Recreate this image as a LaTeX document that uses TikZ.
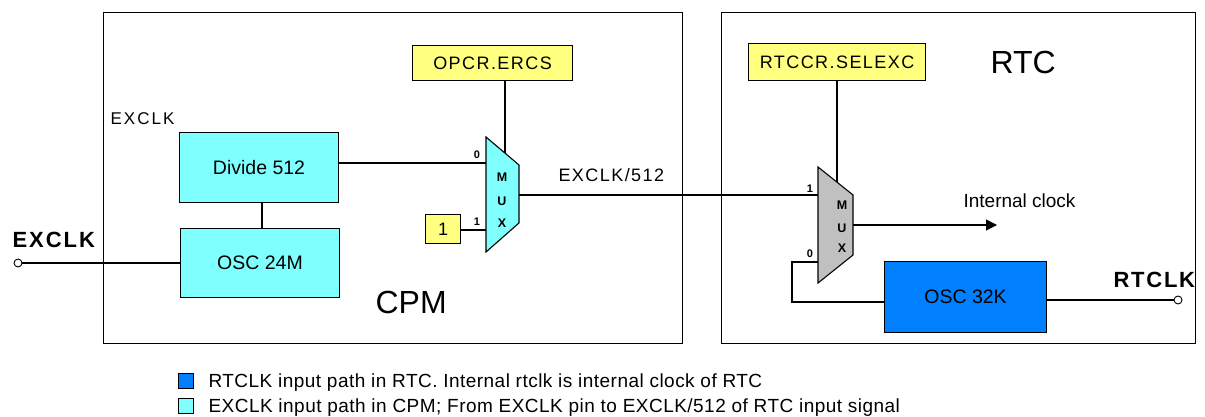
\documentclass[tikz,border=0pt]{standalone}
\usepackage{fontspec}
\setmainfont{Liberation Sans}
\usetikzlibrary{arrows.meta}
\definecolor{cy}{HTML}{80FFFF}
\definecolor{yl}{HTML}{FFFF80}
\definecolor{bl}{HTML}{0080FF}
\definecolor{gr}{HTML}{C0C0C0}
\newcommand{\fsz}[1]{\fontsize{#1}{#1}\selectfont}
\newcommand{\lsp}{\addfontfeature{LetterSpace=8}}
\begin{document}
\begin{tikzpicture}[x=1pt,y=-1pt,line width=1.1pt,
  blk/.style={draw,line width=1.1pt,inner sep=0pt,anchor=north west,font=\fsz{19.5}},
  reg/.style={draw,line width=1.1pt,fill=yl,inner sep=0pt,anchor=north west,font=\fsz{18}\lsp},
  frame/.style={draw,line width=1.1pt,inner sep=0pt,anchor=north west},
  txt/.style={inner sep=0pt,anchor=base west},
  muxl/.style={inner sep=0pt,anchor=base,font=\fsz{12.5}\bfseries},
  pinl/.style={inner sep=0pt,anchor=base,font=\fsz{11}\bfseries},
  pin/.style={circle,draw,line width=0.9pt,fill=white,minimum size=8pt,inner sep=0pt},
  leg/.style={draw,line width=0.9pt,minimum size=15pt,inner sep=0pt,anchor=north west},
  legt/.style={inner sep=0pt,anchor=base west,font=\fsz{19}\addfontfeature{LetterSpace=2.5}}]
\useasboundingbox (0,0) rectangle (1205,417);
% frames
\node[frame,minimum width=579pt,minimum height=331pt] (cpm) at (103,12) {};
\node[frame,minimum width=474pt,minimum height=331pt] (rtc) at (721,12) {};
% blocks
\node[blk,fill=cy,minimum width=159pt,minimum height=70pt] (div) at (179,132) {Divide 512};
\node[blk,fill=cy,minimum width=159pt,minimum height=69pt] (osc24) at (180,228) {OSC 24M};
\node[blk,fill=bl,minimum width=162pt,minimum height=71pt] (osc32) at (884,261) {OSC 32K};
\node[reg,minimum width=160pt,minimum height=35pt] (opcr) at (412,45) {OPCR.ERCS};
\node[reg,minimum width=177pt,minimum height=37pt] (rtccr) at (748,43) {RTCCR.SELEXC};
\node[reg,minimum width=35pt,minimum height=29pt] (one) at (425,214) {1};
% CPM mux
\draw[fill=cy,line width=1.1pt] (486,137) -- (519,165) -- (519,223) -- (486,252) -- cycle;
\coordinate (m1in0) at (486,163);
\coordinate (m1in1) at (486,230);
\coordinate (m1out) at (519,195);
\coordinate (m1sel) at (505,153);
\node[muxl] (m1M) at (502,182) {M};
\node[muxl] (m1U) at (502,205) {U};
\node[muxl] (m1X) at (502,227) {X};
\node[pinl] (m1z) at (477,159) {0};
\node[pinl] (m1o) at (477,225) {1};
% RTC mux
\draw[fill=gr,line width=1.1pt] (818,167) -- (853,195) -- (853,255) -- (818,283) -- cycle;
\coordinate (m2in1) at (818,195);
\coordinate (m2in0) at (818,262);
\coordinate (m2out) at (853,225);
\coordinate (m2sel) at (837,182);
\node[muxl] (m2M) at (842,209) {M};
\node[muxl] (m2U) at (842,232) {U};
\node[muxl] (m2X) at (842,252) {X};
\node[pinl] (m2o) at (810,192) {1};
\node[pinl] (m2z) at (810,257) {0};
% pins
\node[pin] (expin) at (18,263) {};
\node[pin] (rtpin) at (1178,300) {};
\coordinate (lk) at (262,0);
\coordinate (fbtop) at (792,262);
\coordinate (fbbot) at (792,302);
\coordinate (ick) at (997,225);
% connectors
\draw (expin) -- (expin -| osc24.west);
\draw (div.south -| lk) -- (osc24.north -| lk);
\draw (div.east |- m1in0) -- (m1in0);
\draw (one.east |- m1in1) -- (m1in1);
\draw (opcr.south -| m1sel) -- (m1sel);
\draw (m1out) -- (m2in1);
\draw (rtccr.south -| m2sel) -- (m2sel);
\draw[-{Triangle[length=11pt,width=11pt]}] (m2out) -- (ick);
\draw (m2in0) -- (fbtop) -- (fbbot) -- (fbbot -| osc32.west);
\draw (rtpin) -- (rtpin -| osc32.east);
% labels
\node[txt,font=\fsz{17}\addfontfeature{LetterSpace=12}] (lexclk) at (110,125) {EXCLK};
\node[txt,font=\fsz{22}\bfseries\addfontfeature{LetterSpace=9}] (lexpin) at (12,247) {EXCLK};
\node[txt,font=\fsz{22}\bfseries\addfontfeature{LetterSpace=8}] (lrtpin) at (1113,287) {RTCLK};
\node[txt,font=\fsz{18}\lsp] (ldiv) at (558,182) {EXCLK/512};
\node[txt,font=\fsz{19}] (lick) at (963,207) {Internal clock};
\node[txt,font=\fsz{32}] (lcpm) at (375,313) {CPM};
\node[txt,font=\fsz{32}] (lrtc) at (990,74) {RTC};
% legend
\node[leg,fill=bl] (lg1) at (178,373) {};
\node[leg,fill=cy] (lg2) at (178,398) {};
\node[legt] (lt1) at (208,387) {RTCLK input path in RTC. Internal rtclk is internal clock of RTC};
\node[legt] (lt2) at (208,412) {EXCLK input path in CPM; From EXCLK pin to EXCLK/512 of RTC input signal};
\end{tikzpicture}
\end{document}
